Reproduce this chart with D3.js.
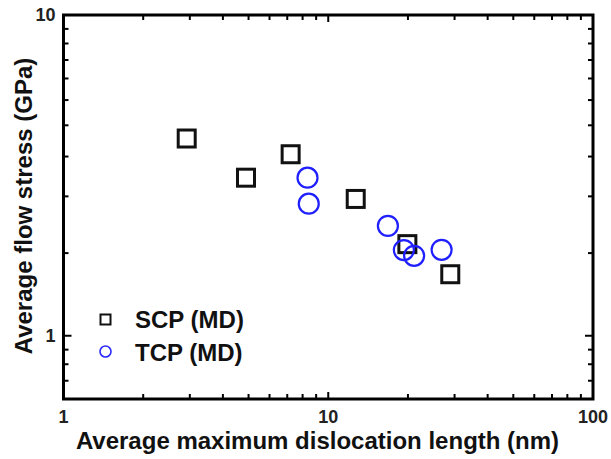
<!DOCTYPE html>
<html><head><meta charset="utf-8">
<script src="https://cdn.jsdelivr.net/npm/d3@7"></script>
<style>body{margin:0;background:#fff;} text{font-family:"Liberation Sans",Arial,sans-serif;font-weight:bold;}</style>
</head><body>
<svg id="c" width="611" height="459"></svg>
<script>
const scpX = [2.92, 4.89, 7.21, 12.7, 19.9, 28.9];
const scpY = [4.12, 3.11, 3.68, 2.67, 1.93, 1.555];
const tcpX = [8.35, 8.44, 16.8, 19.3, 21.1, 26.8];
const tcpY = [3.11, 2.58, 2.20, 1.85, 1.775, 1.853];
const xMajor = [1, 10, 100];
const xMinor = [2,3,4,5,6,7,8,9,20,30,40,50,60,70,80,90];
const yMajor = [1, 10];
const yMinor = [0.724,0.815,0.905,1.81,2.72,3.62,4.53,5.43,6.34,7.24,8.15,9.05];
const seriesNames = ["SCP (MD)", "TCP (MD)"];
const xTitle = "Average maximum dislocation length (nm)";
const yTitle = "Average flow stress (GPa)";

const L = 63.5, R = 593, T = 15, B = 399;
const svg = d3.select("#c");
const x = d3.scaleLog().domain([1, 100]).range([L, R]);
const y = d3.scaleLog().domain([0.635, 10]).range([B, T]);

// ticks (inward, mirrored)
const tk = svg.append("g").attr("stroke", "#000").attr("stroke-width", 2);
xMinor.forEach(v => {
  tk.append("line").attr("x1", x(v)).attr("x2", x(v)).attr("y1", B).attr("y2", B - 5);
  tk.append("line").attr("x1", x(v)).attr("x2", x(v)).attr("y1", T).attr("y2", T + 5);
});
xMajor.forEach(v => {
  tk.append("line").attr("x1", x(v)).attr("x2", x(v)).attr("y1", B).attr("y2", B - 7);
  tk.append("line").attr("x1", x(v)).attr("x2", x(v)).attr("y1", T).attr("y2", T + 7);
});
yMinor.forEach(v => {
  tk.append("line").attr("x1", L).attr("x2", L + 5).attr("y1", y(v)).attr("y2", y(v));
  tk.append("line").attr("x1", R).attr("x2", R - 5).attr("y1", y(v)).attr("y2", y(v));
});
yMajor.forEach(v => {
  tk.append("line").attr("x1", L).attr("x2", L + 8).attr("y1", y(v)).attr("y2", y(v));
  tk.append("line").attr("x1", R).attr("x2", R - 8).attr("y1", y(v)).attr("y2", y(v));
});

// frame
svg.append("rect").attr("x", L).attr("y", T).attr("width", R - L).attr("height", B - T)
  .attr("fill", "none").attr("stroke", "#000").attr("stroke-width", 3);

// tick labels
svg.append("g").selectAll("text").data(xMajor).join("text")
  .attr("x", d => x(d)).attr("y", 423).attr("text-anchor", "middle")
  .attr("font-size", 18).attr("fill", "#222").text(d => d);
svg.append("g").selectAll("text").data(yMajor).join("text")
  .attr("x", L - 8).attr("y", d => y(d) + 6).attr("text-anchor", "end")
  .attr("font-size", 18).attr("fill", "#222").text(d => d);

// titles
svg.append("text").attr("x", 317.5).attr("y", 449).attr("text-anchor", "middle")
  .attr("font-size", 24).attr("fill", "#111").text(xTitle);
svg.append("text").attr("transform", "translate(32,206) rotate(-90)").attr("text-anchor", "middle")
  .attr("font-size", 24).attr("fill", "#111").text(yTitle);

// data
const sq = 17;
svg.append("g").selectAll("rect").data(d3.range(scpX.length)).join("rect")
  .attr("x", i => x(scpX[i]) - sq / 2).attr("y", i => y(scpY[i]) - sq / 2)
  .attr("width", sq).attr("height", sq)
  .attr("fill", "none").attr("stroke", "#111").attr("stroke-width", 3);
svg.append("g").selectAll("circle").data(d3.range(tcpX.length)).join("circle")
  .attr("cx", i => x(tcpX[i])).attr("cy", i => y(tcpY[i])).attr("r", 10)
  .attr("fill", "none").attr("stroke", "#1f1fff").attr("stroke-width", 2.2);

// legend
svg.append("rect").attr("x", 100.5).attr("y", 314.5).attr("width", 10).attr("height", 10)
  .attr("fill", "none").attr("stroke", "#111").attr("stroke-width", 2);
svg.append("circle").attr("cx", 105.5).attr("cy", 351.5).attr("r", 5.5)
  .attr("fill", "none").attr("stroke", "#2a2aff").attr("stroke-width", 1.6);
svg.append("text").attr("x", 135).attr("y", 328).attr("font-size", 24).attr("fill", "#111").text(seriesNames[0]);
svg.append("text").attr("x", 135).attr("y", 361).attr("font-size", 24).attr("fill", "#111").text(seriesNames[1]);
</script>
</body></html>
